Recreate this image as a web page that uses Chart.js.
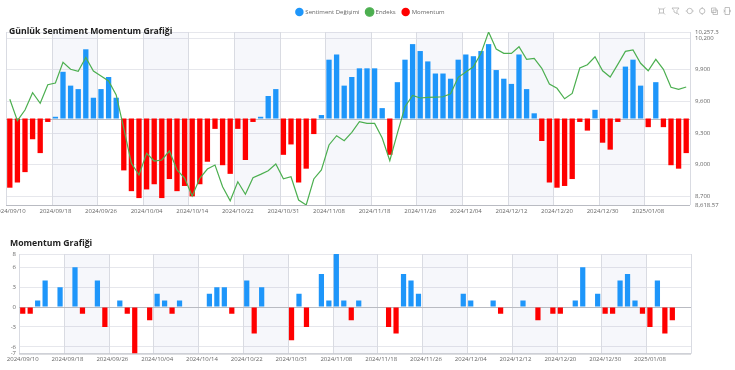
<!DOCTYPE html>
<html>
<head>
<meta charset="utf-8">
<script src="https://cdn.jsdelivr.net/npm/chart.js@4/dist/chart.umd.min.js"></script>
<style>
    html, body { margin: 0; padding: 0; background: #fff; width: 735px; height: 370px; overflow: hidden; }
    canvas { position: absolute; left: 0; }
    .title { position: absolute; font: bold 8.7px 'Open Sans', sans-serif; color: #222; white-space: nowrap; }
    #toolbox { position: absolute; left: 658px; top: 7px; }
</style>
</head>
<body>
<canvas id="dailyChart" width="735" height="222" style="top:0"></canvas>
<canvas id="momentumChart" width="735" height="148" style="top:222px"></canvas>
<div class="title" style="left:9px;top:25px">Günlük Sentiment Momentum Grafiği</div>
<div class="title" style="left:10px;top:237px">Momentum Grafiği</div>
<svg id="toolbox" width="76" height="10" fill="none" stroke="#a8a8a8" stroke-width="0.7">
    <path d="M1.500 2h4v4h-4zM0 0.500l1.500 1.500M7 0.500l-1.500 1.500M0 7.500l1.500-1.500M7 7.500l-1.500-1.500"/>
    <path d="M14 1h7l-2 2.500v3l-3-1.500v-1.500zM19.500 6l1.500 2"/>
    <path d="M29 4a2.700 2.700 0 1 1 5.400 0a2.700 2.700 0 1 1-5.400 0M27.700 4h1.300M34.400 4h1.300"/>
    <path d="M41.500 4a2.700 2.700 0 1 1 5.400 0a2.700 2.700 0 1 1-5.400 0M44.200 0v1.300M44.200 6.700v1.300"/>
    <path d="M53.500 1h4.500v4.500h-4.500zM55 3h4.500v4.500h-4.500z"/>
    <path d="M67 0.500h4.500v7h-4.500zM65.500 3l1.500 1-1.500 1M73 3l-1.500 1 1.500 1"/>
</svg>
<script>
const dates = ['2024/09/10','2024/09/11','2024/09/12','2024/09/13','2024/09/16','2024/09/17','2024/09/18','2024/09/19','2024/09/20','2024/09/23',
    '2024/09/24','2024/09/25','2024/09/26','2024/09/27','2024/09/30','2024/10/01','2024/10/02','2024/10/03','2024/10/04','2024/10/07',
    '2024/10/08','2024/10/09','2024/10/10','2024/10/11','2024/10/14','2024/10/15','2024/10/16','2024/10/17','2024/10/18','2024/10/21',
    '2024/10/22','2024/10/23','2024/10/24','2024/10/25','2024/10/28','2024/10/30','2024/10/31','2024/11/01','2024/11/04','2024/11/05',
    '2024/11/06','2024/11/07','2024/11/08','2024/11/11','2024/11/12','2024/11/13','2024/11/14','2024/11/15','2024/11/18','2024/11/19',
    '2024/11/20','2024/11/21','2024/11/22','2024/11/25','2024/11/26','2024/11/27','2024/11/28','2024/11/29','2024/12/02','2024/12/03',
    '2024/12/04','2024/12/05','2024/12/06','2024/12/09','2024/12/10','2024/12/11','2024/12/12','2024/12/13','2024/12/16','2024/12/17',
    '2024/12/18','2024/12/19','2024/12/20','2024/12/23','2024/12/24','2024/12/25','2024/12/26','2024/12/27','2024/12/30','2024/12/31',
    '2025/01/02','2025/01/03','2025/01/06','2025/01/07','2025/01/08','2025/01/09','2025/01/10','2025/01/13','2025/01/14','2025/01/15'];

// Daily sentiment, positive days are blue and negative days red
const sentiment = [-40,-37,-31,-12,-20,-2,1,27,19,17,40,12,17,24,12,-30,-42,-46,-41,-38,
    -46,-35,-42,-39,-45,-38,-25,-6,-27,-32,-6,-24,-2,1,13,17,-21,-15,-37,-29,
    -9,2,34,37,19,24,29,29,29,6,-21,21,34,43,39,33,26,26,23,34,
    37,36,39,43,28,23,20,37,17,3,-13,-37,-40,-39,-35,-2,-7,5,-14,-18,
    -2,30,34,19,-5,21,-5,-27,-29,-20];

const indexValues = [9620,9417,9518,9682,9582,9758,9774,9970,9904,9885,10017,9888,9840,9793,9660,9345,9013,8903,9108,9035,
    9045,9130,8950,8874,8704,8871,8959,8997,8792,8659,8839,8720,8877,8909,8943,9007,8867,8886,8666,8618.57,
    8865,8950,9187,9275,9227,9307,9407,9392,9392,9253,9038,9300,9549,9657,9632,9638,9641,9644,9673,9828,
    9878,9928,10055,10257.3,10096,10055,10055,10118,9998,10008,9913,9764,9724,9625,9676,9916,9947,10023,9890,9831,
    9951,10074,10087,9961,9890,9998,9904,9733,9714,9736];

const momentum = [-1,-1,1,4,0,3,0,6,-1,0,4,-3,0,1,-1,-7,0,-2,2,1,
    -1,1,0,0,0,2,3,3,-1,0,4,-4,3,0,0,0,-5,2,-3,0,
    5,1,8,1,-2,1,0,0,0,-3,-4,5,4,2,0,0,0,0,0,2,
    1,0,0,1,-1,0,0,1,0,-2,0,-1,-1,0,1,6,0,2,-1,-1,
    4,5,1,-1,-3,4,-4,-2,0,0];

const indexTicks = [8618.57,8700,9000,9300,9600,9900,10200,10257.3];
const momentumTicks = [-7,-6,-3,0,3,6,8];
const labelStep = 6;

const BLUE = '#1e96fa';
const RED = '#ff0000';
const GREEN = '#4caf50';
const FONT = "'Open Sans', sans-serif";

// Split areas, band-edge grid lines and the zero axis
const bandGrid = {
    id: 'bandGrid',
    beforeDatasetsDraw(chart, args, opts) {
        const { ctx, chartArea: a, scales } = chart;
        const x = scales.x;
        const band = x.getPixelForValue(1) - x.getPixelForValue(0);
        const edge = i => Math.round(x.getPixelForValue(i) - band / 2) + 0.5;
        ctx.save();
        ctx.globalCompositeOperation = 'multiply';
        ctx.fillStyle = '#f6f7fb';
        for (let i = labelStep, n = 1; i < dates.length; i += labelStep, n++) {
            if (n % 2 === 1) {
                ctx.fillRect(edge(i), a.top, edge(i + labelStep) - edge(i), a.bottom - a.top);
            }
        }
        ctx.globalCompositeOperation = 'source-over';
        ctx.strokeStyle = '#d9dbe2';
        ctx.lineWidth = 1;
        ctx.beginPath();
        for (let i = 0; i <= dates.length; i += labelStep) {
            ctx.moveTo(edge(i), a.top);
            ctx.lineTo(edge(i), a.bottom);
        }
        ctx.moveTo(a.right + 0.5, a.top);
        ctx.lineTo(a.right + 0.5, a.bottom);
        ctx.stroke();
        const zero = Math.round(scales[opts.barAxis].getPixelForValue(0)) + 0.5;
        ctx.strokeStyle = '#b9bbc2';
        ctx.beginPath();
        ctx.moveTo(a.left, zero);
        ctx.lineTo(a.right, zero);
        ctx.moveTo(a.left, a.bottom + 0.5);
        ctx.lineTo(a.right, a.bottom + 0.5);
        ctx.stroke();
        ctx.restore();
    }
};

// The plot top is pinned by the y axis, so the legend is lifted back up to the top edge
const liftLegend = {
    id: 'liftLegend',
    afterLayout(chart) {
        chart.legend.top -= 7;
        chart.legend.bottom -= 7;
    }
};

function xAxis(height, padding) {
    return {
        grid: { display: false, drawTicks: false },
        border: { display: false },
        afterFit(s) { s.height = height; s.paddingLeft = 0; s.paddingRight = 0; },
        ticks: {
            autoSkip: false,
            maxRotation: 0,
            padding: padding,
            color: '#666',
            font: { size: 6, family: FONT },
            callback(value, i) { return i % labelStep === 0 ? dates[i] : ''; }
        }
    };
}

// Top chart
const dailyChart = new Chart(document.getElementById('dailyChart'), {
    data: {
        labels: dates,
        datasets: [{
            type: 'bar',
            label: 'Sentiment Değişimi',
            data: sentiment.map(v => v > 0 ? v : null),
            backgroundColor: BLUE,
            yAxisID: 'yBar',
            grouped: false,
            barPercentage: 0.7,
            categoryPercentage: 1,
            order: 1
        }, {
            type: 'line',
            label: 'Endeks',
            data: indexValues,
            borderColor: GREEN,
            backgroundColor: GREEN,
            borderWidth: 1.2,
            pointRadius: 0,
            tension: 0,
            yAxisID: 'y',
            order: 0
        }, {
            type: 'bar',
            label: 'Momentum',
            data: sentiment.map(v => v < 0 ? v : null),
            backgroundColor: RED,
            yAxisID: 'yBar',
            grouped: false,
            barPercentage: 0.7,
            categoryPercentage: 1,
            order: 1
        }]
    },
    options: {
        responsive: false,
        animation: false,
        layout: { padding: { left: 6, top: 1 } },
        plugins: {
            bandGrid: { barAxis: 'yBar' },
            tooltip: { enabled: false },
            legend: {
                labels: {
                    usePointStyle: true,
                    pointStyle: 'circle',
                    boxHeight: 6,
                    padding: 7,
                    color: '#666',
                    font: { size: 6, family: FONT },
                    sort: (a, b) => a.datasetIndex - b.datasetIndex
                }
            }
        },
        scales: {
            x: xAxis(17, 3),
            yBar: { display: false, min: -50, max: 50 },
            y: {
                position: 'right',
                min: 8618.57,
                max: 10257.3,
                border: { display: false },
                grid: { color: '#e6e7ec', drawTicks: false },
                afterBuildTicks(s) { s.ticks = indexTicks.map(value => ({ value })); },
                afterFit(s) { s.width = 45; s.paddingTop = 32; s.paddingBottom = 0; },
                ticks: {
                    autoSkip: false,
                    padding: 5,
                    color: '#666',
                    font: { size: 6, family: FONT },
                    callback(value) { return value.toLocaleString('en-US', { maximumFractionDigits: 2 }); }
                }
            }
        }
    },
    plugins: [bandGrid, liftLegend]
});

// Bottom chart
const momentumChart = new Chart(document.getElementById('momentumChart'), {
    type: 'bar',
    data: {
        labels: dates,
        datasets: [{
            label: 'Momentum',
            data: momentum,
            backgroundColor: ctx => ctx.raw < 0 ? RED : BLUE,
            barPercentage: 0.7,
            categoryPercentage: 1
        }]
    },
    options: {
        responsive: false,
        animation: false,
        layout: { padding: { top: 32, right: 44 } },
        plugins: {
            bandGrid: { barAxis: 'y' },
            tooltip: { enabled: false },
            legend: { display: false }
        },
        scales: {
            x: xAxis(16.5, 2),
            y: {
                min: -7,
                max: 8,
                border: { display: false },
                grid: { color: '#e6e7ec', drawTicks: false },
                afterBuildTicks(s) { s.ticks = momentumTicks.map(value => ({ value })); },
                afterFit(s) { s.width = 19; s.paddingTop = 0; s.paddingBottom = 0; },
                ticks: {
                    autoSkip: false,
                    padding: 3,
                    color: '#666',
                    font: { size: 6, family: FONT }
                }
            }
        }
    },
    plugins: [bandGrid]
});
</script>
</body>
</html>
